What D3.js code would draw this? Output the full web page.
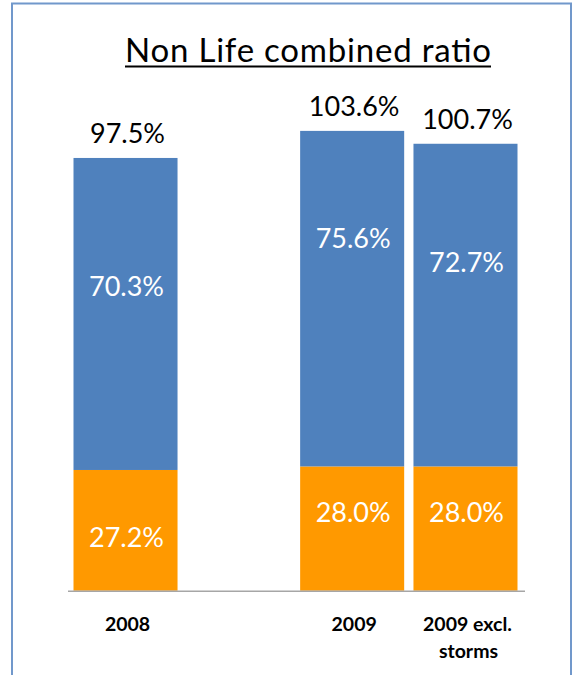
<!DOCTYPE html>
<html>
<head>
<meta charset="utf-8">
<script src="https://cdn.jsdelivr.net/npm/d3@7"></script>
<style>
  html, body { margin: 0; padding: 0; background: #fff; }
  svg { display: block; }
</style>
</head>
<body>
<svg id="chart" width="575" height="675"></svg>
<script>
// Non Life combined ratio: expense + claims ratio, stacked per period
const categories = ["2008", "", "2009", "2009 excl.\nstorms"];
const expenseRatio = [27.2, null, 28.0, 28.0];   // bottom segment (orange)
const lossRatio    = [70.3, null, 75.6, 72.7];   // top segment (blue)
const totalRatio   = [97.5, null, 103.6, 100.7];  // combined ratio

// label nudges (px) from the middle of each segment
const lossLabelShift    = [-27.5, 0, -60.5, -43];
const expenseLabelShift = [7, 0, -16, -16];

const svg = d3.select("#chart");
const font = "Lato, 'Open Sans', sans-serif";

// frame
svg.append("rect")
  .attr("x", 12).attr("y", 3.5)
  .attr("width", 559).attr("height", 690)
  .attr("fill", "none")
  .attr("stroke", "#7198cb")
  .attr("stroke-width", 2);

// title, underlined
const titleWidth = 366;
svg.append("text")
  .attr("x", 308).attr("y", 62)
  .attr("text-anchor", "middle")
  .attr("font-family", font)
  .attr("font-size", 33)
  .attr("textLength", titleWidth)
  .attr("lengthAdjust", "spacing")
  .attr("fill", "#000")
  .text("Non Life combined ratio");
svg.append("rect")
  .attr("x", 308 - titleWidth / 2).attr("y", 65.5)
  .attr("width", titleWidth).attr("height", 2)
  .attr("fill", "#000");

const x = d3.scaleBand()
  .domain(categories)
  .range([73.5, 517.5])
  .paddingInner(0.082)
  .paddingOuter(0);

const y = d3.scaleLinear()
  .domain([0, 120])
  .range([590.7, 58.1]);

const rows = categories.map((c, i) => ({
  cat: c, exp: expenseRatio[i], loss: lossRatio[i], total: totalRatio[i],
  lossShift: lossLabelShift[i], expShift: expenseLabelShift[i]
})).filter(d => d.exp != null);

const g = svg.append("g");

// expense segment
g.selectAll("rect.exp").data(rows).join("rect")
  .attr("class", "exp")
  .attr("x", d => x(d.cat))
  .attr("width", x.bandwidth())
  .attr("y", d => y(d.exp))
  .attr("height", d => y(0) - y(d.exp))
  .attr("fill", "#ff9900");

// loss segment stacked on top
g.selectAll("rect.loss").data(rows).join("rect")
  .attr("class", "loss")
  .attr("x", d => x(d.cat))
  .attr("width", x.bandwidth())
  .attr("y", d => y(d.exp + d.loss))
  .attr("height", d => y(d.exp) - y(d.exp + d.loss))
  .attr("fill", "#4f81bd");

// category axis line
svg.append("line")
  .attr("x1", 68).attr("x2", 525)
  .attr("y1", y(0) + 0.5).attr("y2", y(0) + 0.5)
  .attr("stroke", "#a6a6a6")
  .attr("stroke-width", 1.6);

const fmt = v => v.toFixed(1) + "%";
const labelSize = 27;
const half = labelSize * 0.36;
const cx = d => x(d.cat) + x.bandwidth() / 2;

// segment value labels
g.selectAll("text.loss").data(rows).join("text")
  .attr("x", d => cx(d) + 1)
  .attr("y", d => (y(d.exp) + y(d.exp + d.loss)) / 2 + d.lossShift + half)
  .attr("text-anchor", "middle")
  .attr("font-family", font).attr("font-size", labelSize)
  .attr("fill", "#fff")
  .text(d => fmt(d.loss));

g.selectAll("text.exp").data(rows).join("text")
  .attr("x", d => cx(d) + 1)
  .attr("y", d => (y(0) + y(d.exp)) / 2 + d.expShift + half)
  .attr("text-anchor", "middle")
  .attr("font-family", font).attr("font-size", labelSize)
  .attr("fill", "#fff")
  .text(d => fmt(d.exp));

// combined ratio above each bar
g.selectAll("text.total").data(rows).join("text")
  .attr("x", d => cx(d) + 2)
  .attr("y", d => y(d.total) - 15)
  .attr("text-anchor", "middle")
  .attr("font-family", font).attr("font-size", labelSize)
  .attr("fill", "#000")
  .text(d => fmt(d.total));

// category labels (multi-line where needed)
const ticks = svg.append("g");
categories.forEach(c => {
  if (!c) return;
  const t = ticks.append("text")
    .attr("x", x(c) + x.bandwidth() / 2)
    .attr("y", 631)
    .attr("text-anchor", "middle")
    .attr("font-family", font).attr("font-size", 19.5)
    .attr("font-weight", "bold")
    .attr("fill", "#000");
  c.split("\n").forEach((line, k) => {
    t.append("tspan")
      .attr("x", x(c) + x.bandwidth() / 2 + (k > 0 ? 3 : 2))
      .attr("dy", k === 0 ? 0 : 26.5)
      .text(line);
  });
});
</script>
</body>
</html>
